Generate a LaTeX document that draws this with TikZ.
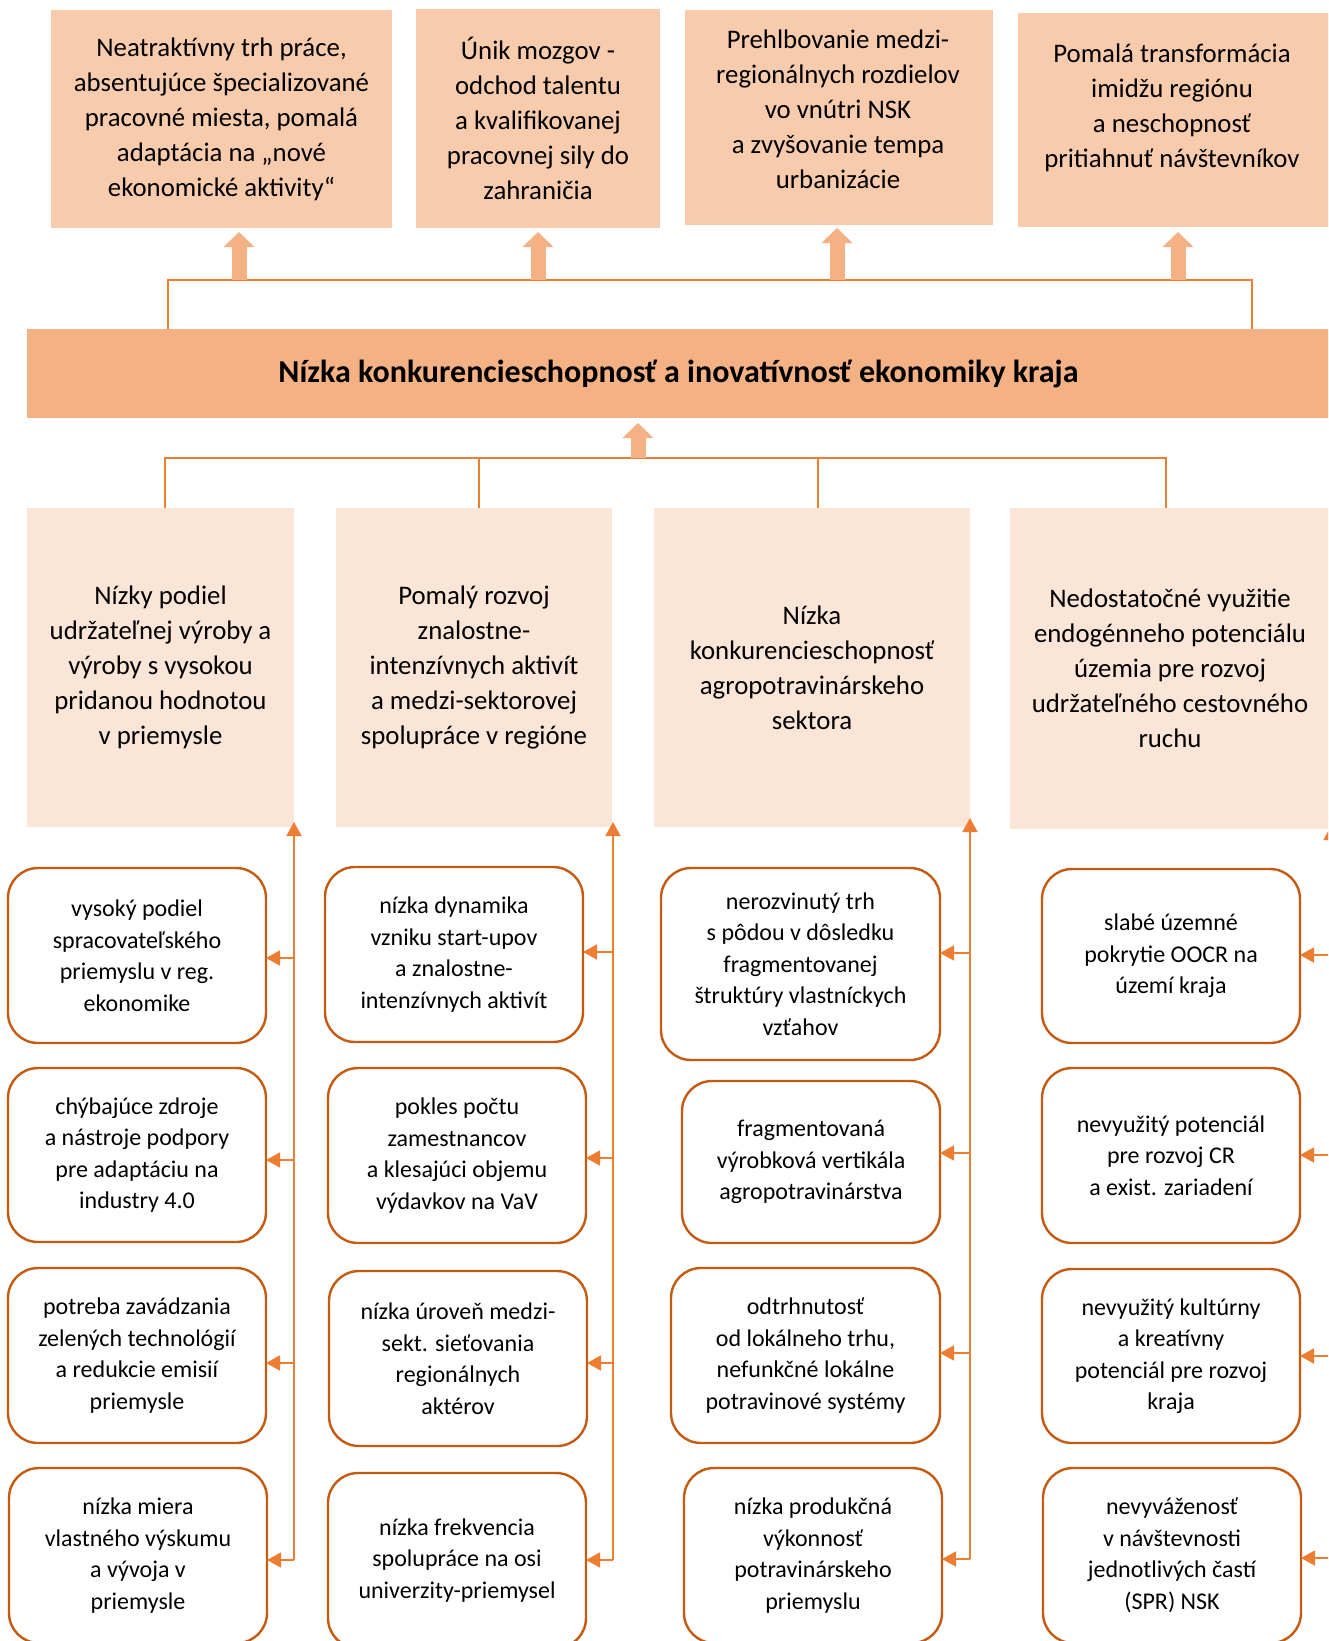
\documentclass[tikz,border=0pt]{standalone}
\usepackage{fontspec}
\setmainfont{Carlito}
\usetikzlibrary{arrows.meta}
\definecolor{topfill}{HTML}{F8CBAD}
\definecolor{mainfill}{HTML}{F4B183}
\definecolor{midfill}{HTML}{FBE5D6}
\definecolor{lineor}{HTML}{ED7D31}
\definecolor{boxborder}{HTML}{C55A11}
\tikzset{
  topbox/.style={fill=topfill, inner sep=0pt, outer sep=0pt, align=center, font={\fontsize{26.8}{35}\selectfont}},
  mainbox/.style={fill=mainfill, inner sep=0pt, outer sep=0pt, align=center, font={\fontsize{32}{38}\selectfont\bfseries}},
  midbox/.style={fill=midfill, inner sep=0pt, outer sep=0pt, align=center, font={\fontsize{26.8}{35}\selectfont}},
  causebox/.style={draw=boxborder, line width=2.4pt, fill=white, rounded corners=30pt, inner sep=0pt, outer sep=0pt, align=center, font={\fontsize{24}{31.5}\selectfont}},
  plaintext/.style={inner sep=0pt, align=center, font={\fontsize{26.8}{35}\selectfont}},
  blockarrow/.style={draw=mainfill, line width=15pt, -{Triangle[width=30pt,length=15pt]}, fill=mainfill},
  conn/.style={draw=lineor, line width=1.6pt},
  uparrow/.style={draw=lineor, line width=1.6pt, -{Triangle[width=15pt,length=14pt]}},
  sidearrow/.style={draw=lineor, line width=1.6pt, -{Triangle[width=15pt,length=14pt]}}
}
\begin{document}
\begin{tikzpicture}[x=1pt,y=-1pt]
\useasboundingbox (0,0) rectangle (1328,1641);
\clip (0,0) rectangle (1328,1641);
\fill[white] (0,0) rectangle (1328,1641);

% top effect boxes
\node[topbox, minimum width=341pt, minimum height=218pt] (B1) at (221.5,119)
  {Neatraktívny trh práce,\\absentujúce špecializované\\pracovné miesta, pomalá\\adaptácia na „nové\\ekonomické aktivity“};
\node[topbox, minimum width=244pt, minimum height=219pt] (B2) at (538,118.5)
  {Únik mozgov -\\odchod talentu\\a kvalifikovanej\\pracovnej sily do\\zahraničia};
\node[topbox, minimum width=308pt, minimum height=215pt] (B3) at (839,117.5) {};
\node[plaintext] (B3t) at (838,109)
  {Prehlbovanie medzi-\\regionálnych rozdielov\\vo vnútri NSK\\a zvyšovanie tempa\\urbanizácie};
\node[topbox, minimum width=312pt, minimum height=214pt] (B4) at (1174,120) {};
\node[plaintext] (B4t) at (1172,108)
  {Pomalá transformácia\\imidžu regiónu\\a neschopnosť\\pritiahnuť návštevníkov};

% main problem
\node[mainbox, minimum width=1303pt, minimum height=89pt] (main) at (678.5,373.5)
  {Nízka konkurencieschopnosť a inovatívnosť ekonomiky kraja};

% connector above main box
\coordinate (tl) at (168,280);
\coordinate (tr) at (1252,280);
\draw[conn] (tl |- main.north) -- (tl) -- (tr) -- (tr |- main.north);
\coordinate (a1) at (239,280);
\coordinate (a2) at (538,280);
\coordinate (a3) at (837,280);
\coordinate (a4) at (1178,280);
\draw[blockarrow, shorten >=4pt] (a1) -- (a1 |- B1.south);
\draw[blockarrow, shorten >=4pt] (a2) -- (a2 |- B2.south);
\draw[blockarrow, shorten >=3pt] (a3) -- (a3 |- B3.south);
\draw[blockarrow, shorten >=5pt] (a4) -- (a4 |- B4.south);

% middle boxes
\node[midbox, minimum width=267pt, minimum height=319pt] (M1) at (160.5,667.5)
  {Nízky podiel\\udržateľnej výroby a\\výroby s vysokou\\pridanou hodnotou\\v priemysle};
\node[midbox, minimum width=276pt, minimum height=319pt] (M2) at (474,667.5)
  {Pomalý rozvoj\\znalostne-\\intenzívnych aktivít\\a medzi-sektorovej\\spolupráce v regióne};
\node[midbox, minimum width=316pt, minimum height=319pt] (M3) at (812,667.5)
  {Nízka\\konkurencieschopnosť\\agropotravinárskeho\\sektora};
\node[midbox, minimum width=320pt, minimum height=321pt] (M4) at (1170,668.5)
  {Nedostatočné využitie\\endogénneho potenciálu\\územia pre rozvoj\\udržateľného cestovného\\ruchu};

% connector below main box
\coordinate (c1) at (165,458);
\coordinate (c2) at (479,458);
\coordinate (c3) at (818,458);
\coordinate (c4) at (1166,458);
\draw[conn] (c1 |- M1.north) -- (c1) -- (c4) -- (c4 |- M4.north);
\draw[conn] (c2) -- (c2 |- M2.north);
\draw[conn] (c3) -- (c3 |- M3.north);
\coordinate (ua) at (638,458);
\draw[blockarrow, shorten >=5pt] (ua) -- (ua |- main.south);

% cause boxes column 1
\node[causebox, minimum width=258pt, minimum height=175pt] (R1a) at (137,955.5)
  {vysoký podiel\\spracovateľského\\priemyslu v reg.\\ekonomike};
\node[causebox, minimum width=258pt, minimum height=174pt] (R1b) at (137,1155)
  {chýbajúce zdroje\\a nástroje podpory\\pre adaptáciu na\\industry 4.0};
\node[causebox, minimum width=258pt, minimum height=175pt] (R1c) at (137,1355.5)
  {potreba zavádzania\\zelených technológií\\a redukcie emisií\\priemysle};
\node[causebox, minimum width=258pt, minimum height=175pt] (R1d) at (138,1555.5)
  {nízka miera\\vlastného výskumu\\a vývoja v\\priemysle};

% column 2
\node[causebox, minimum width=258pt, minimum height=175pt] (R2a) at (454,954.5)
  {nízka dynamika\\vzniku start-upov\\a znalostne-\\intenzívnych aktivít};
\node[causebox, minimum width=258pt, minimum height=175pt] (R2b) at (457,1155.5)
  {pokles počtu\\zamestnancov\\a klesajúci objemu\\výdavkov na VaV};
\node[causebox, minimum width=258pt, minimum height=175pt] (R2c) at (458,1358.5)
  {nízka úroveň medzi-\\sekt. sieťovania\\regionálnych\\aktérov};
\node[causebox, minimum width=258pt, minimum height=175pt] (R2d) at (457,1560.5)
  {nízka frekvencia\\spolupráce na osi\\univerzity-priemysel};

% column 3
\node[causebox, minimum width=279pt, minimum height=192pt] (R3a) at (800.5,964)
  {nerozvinutý trh\\s pôdou v dôsledku\\fragmentovanej\\štruktúry vlastníckych\\vzťahov};
\node[causebox, minimum width=258pt, minimum height=162pt] (R3b) at (811,1162)
  {fragmentovaná\\výrobková vertikála\\agropotravinárstva};
\node[causebox, minimum width=269pt, minimum height=175pt] (R3c) at (805.5,1355.5)
  {odtrhnutosť\\od lokálneho trhu,\\nefunkčné lokálne\\potravinové systémy};
\node[causebox, minimum width=258pt, minimum height=175pt] (R3d) at (813,1555.5)
  {nízka produkčná\\výkonnosť\\potravinárskeho\\priemyslu};

% column 4
\node[causebox, minimum width=258pt, minimum height=174pt] (R4a) at (1171,956)
  {slabé územné\\pokrytie OOCR na\\území kraja};
\node[causebox, minimum width=258pt, minimum height=175pt] (R4b) at (1171,1155.5)
  {nevyužitý potenciál\\pre rozvoj CR\\a exist. zariadení};
\node[causebox, minimum width=258pt, minimum height=174pt] (R4c) at (1171,1356)
  {nevyužitý kultúrny\\a kreatívny\\potenciál pre rozvoj\\kraja};
\node[causebox, minimum width=258pt, minimum height=175pt] (R4d) at (1172,1555.5)
  {nevyváženosť\\v návštevnosti\\jednotlivých častí\\(SPR) NSK};

% vertical collector lines with arrows up to the middle boxes
\coordinate (v1b) at (294,1560); \coordinate (v1t) at (294,822);
\coordinate (v2b) at (613,1560); \coordinate (v2t) at (613,822);
\coordinate (v3b) at (970,1559); \coordinate (v3t) at (970,818);
\coordinate (v4b) at (1331,1558); \coordinate (v4t) at (1331,826);
\draw[uparrow] (v1b) -- (v1t);
\draw[uparrow] (v2b) -- (v2t);
\draw[uparrow] (v3b) -- (v3t);
\draw[uparrow] (v4b) -- (v4t);

% side arrows
\coordinate (s1a) at (294,958);  \draw[sidearrow] (s1a) -- (s1a -| R1a.east);
\coordinate (s1b) at (294,1160); \draw[sidearrow] (s1b) -- (s1b -| R1b.east);
\coordinate (s1c) at (294,1363); \draw[sidearrow] (s1c) -- (s1c -| R1c.east);
\coordinate (s1d) at (294,1560); \draw[sidearrow] (s1d) -- (s1d -| R1d.east);
\coordinate (s2a) at (613,952);  \draw[sidearrow] (s2a) -- (s2a -| R2a.east);
\coordinate (s2b) at (613,1158); \draw[sidearrow] (s2b) -- (s2b -| R2b.east);
\coordinate (s2c) at (613,1363); \draw[sidearrow] (s2c) -- (s2c -| R2c.east);
\coordinate (s2d) at (613,1560); \draw[sidearrow] (s2d) -- (s2d -| R2d.east);
\coordinate (s3a) at (970,953);  \draw[sidearrow] (s3a) -- (s3a -| R3a.east);
\coordinate (s3b) at (970,1153); \draw[sidearrow] (s3b) -- (s3b -| R3b.east);
\coordinate (s3c) at (970,1353); \draw[sidearrow] (s3c) -- (s3c -| R3c.east);
\coordinate (s3d) at (970,1559); \draw[sidearrow] (s3d) -- (s3d -| R3d.east);
\coordinate (s4a) at (1331,955);  \draw[sidearrow] (s4a) -- (s4a -| R4a.east);
\coordinate (s4b) at (1331,1155); \draw[sidearrow] (s4b) -- (s4b -| R4b.east);
\coordinate (s4c) at (1331,1356); \draw[sidearrow] (s4c) -- (s4c -| R4c.east);
\coordinate (s4d) at (1331,1558); \draw[sidearrow] (s4d) -- (s4d -| R4d.east);
\end{tikzpicture}
\end{document}
